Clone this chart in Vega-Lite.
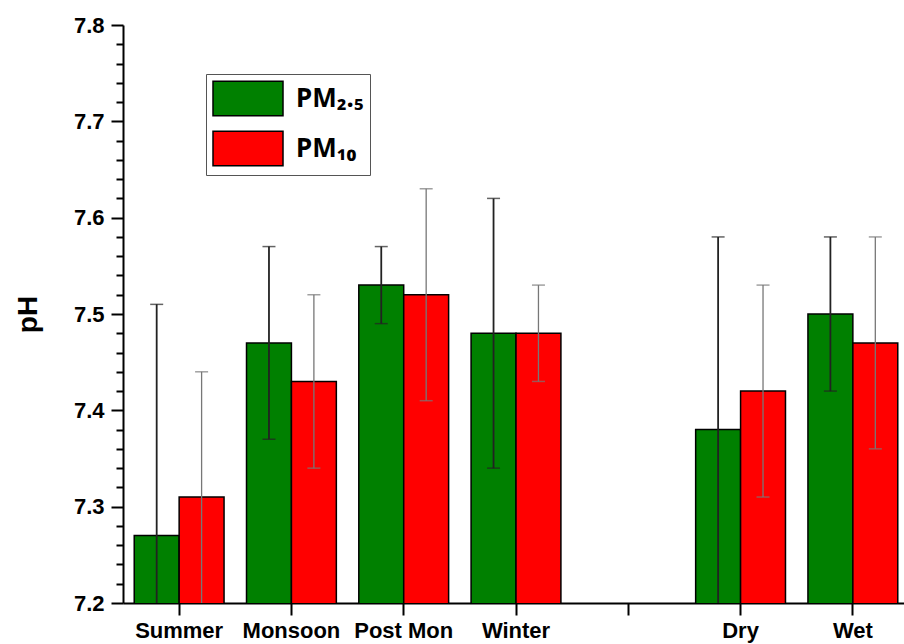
{
  "$schema": "https://vega.github.io/schema/vega-lite/v6.json",
  "width": 786,
  "height": 578,
  "autosize": {"type": "none"},
  "padding": {"left": 123, "top": 25, "right": 0, "bottom": 41},
  "background": "white",
  "config": {"font": "Liberation Sans", "view": {"stroke": null}},
  "data": {
    "values": [
      {"season": "Summer", "pm": "PM2.5", "mean": 7.27, "lo": 7.03, "hi": 7.51},
      {"season": "Summer", "pm": "PM10", "mean": 7.31, "lo": 7.18, "hi": 7.44},
      {"season": "Monsoon", "pm": "PM2.5", "mean": 7.47, "lo": 7.37, "hi": 7.57},
      {"season": "Monsoon", "pm": "PM10", "mean": 7.43, "lo": 7.34, "hi": 7.52},
      {"season": "Post Mon", "pm": "PM2.5", "mean": 7.53, "lo": 7.49, "hi": 7.57},
      {"season": "Post Mon", "pm": "PM10", "mean": 7.52, "lo": 7.41, "hi": 7.63},
      {"season": "Winter", "pm": "PM2.5", "mean": 7.48, "lo": 7.34, "hi": 7.62},
      {"season": "Winter", "pm": "PM10", "mean": 7.48, "lo": 7.43, "hi": 7.53},
      {"season": "Dry", "pm": "PM2.5", "mean": 7.38, "lo": 7.18, "hi": 7.58},
      {"season": "Dry", "pm": "PM10", "mean": 7.42, "lo": 7.31, "hi": 7.53},
      {"season": "Wet", "pm": "PM2.5", "mean": 7.50, "lo": 7.42, "hi": 7.58},
      {"season": "Wet", "pm": "PM10", "mean": 7.47, "lo": 7.36, "hi": 7.58}
    ]
  },
  "encoding": {
    "x": {
      "field": "season",
      "type": "nominal",
      "scale": {
        "domain": ["Summer", "Monsoon", "Post Mon", "Winter", " ", "Dry", "Wet"],
        "paddingInner": 0.2,
        "paddingOuter": 0.1
      },
      "axis": {
        "title": null,
        "labelAngle": 0,
        "labelFontSize": 22,
        "labelFontWeight": "bold",
        "labelColor": "black",
        "labelPadding": 5,
        "tickSize": 12,
        "tickWidth": 2,
        "tickColor": "black",
        "domainColor": "black",
        "domainWidth": 2,
        "grid": false
      }
    },
    "xOffset": {"field": "pm", "type": "nominal", "scale": {"domain": ["PM2.5", "PM10"]}}
  },
  "layer": [
    {
      "mark": {"type": "bar", "stroke": "black", "strokeWidth": 1.5, "clip": true},
      "encoding": {
        "y": {
          "field": "mean",
          "type": "quantitative",
          "scale": {"domain": [7.2, 7.8], "zero": false, "nice": false},
          "axis": {
            "title": "pH",
            "titleFontSize": 28,
            "titleFontWeight": "bold",
            "titleColor": "black",
            "titlePadding": 31,
            "values": [7.2, 7.22, 7.24, 7.26, 7.28, 7.3, 7.32, 7.34, 7.36, 7.38, 7.4, 7.42, 7.44, 7.46, 7.48, 7.5, 7.52, 7.54, 7.56, 7.58, 7.6, 7.62, 7.64, 7.66, 7.68, 7.7, 7.72, 7.74, 7.76, 7.78, 7.8],
            "tickCount": 40,
            "labelExpr": "abs(datum.value*10-round(datum.value*10))<0.001 ? format(datum.value,'.1f') : ''",
            "tickSize": {"condition": {"test": "abs(datum.value*10-round(datum.value*10))<0.001", "value": 12}, "value": 7},
            "tickWidth": 2,
            "tickColor": "black",
            "labelFontSize": 22,
            "labelFontWeight": "bold",
            "labelColor": "black",
            "labelPadding": 7,
            "labelFlush": false,
            "labelOverlap": false,
            "domainColor": "black",
            "domainWidth": 2,
            "grid": false
          }
        },
        "fill": {
          "field": "pm",
          "type": "nominal",
          "scale": {"domain": ["PM2.5", "PM10"], "range": ["#008000", "#ff0000"]},
          "legend": {
            "orient": "none",
            "legendX": 83,
            "legendY": 49,
            "title": null,
            "labelExpr": "datum.value == 'PM2.5' ? 'PM₂.₅\u00a0' : 'PM₁₀\u00a0'",
            "labelFont": "Noto Sans",
            "symbolType": "M-1,-0.98H3V0.98H-1Z",
            "symbolSize": 1225,
            "symbolStrokeColor": "black",
            "symbolStrokeWidth": 1.5,
            "labelOffset": 47,
            "labelFontSize": 26,
            "labelFontWeight": "bold",
            "labelColor": "black",
            "strokeColor": "#555",
            "fillColor": "white",
            "padding": 6,
            "rowPadding": 9
          }
        }
      }
    },
    {
      "mark": {"type": "rule", "clip": true},
      "encoding": {
        "y": {"field": "lo", "type": "quantitative"},
        "y2": {"field": "hi"},
        "color": {"condition": {"test": "datum.pm == 'PM2.5'", "value": "#222222"}, "value": "#777777"},
        "strokeWidth": {"condition": {"test": "datum.pm == 'PM2.5'", "value": 1.8}, "value": 1.3}
      }
    },
    {
      "mark": {"type": "tick", "clip": true, "size": 13, "thickness": 1.5},
      "encoding": {
        "y": {"field": "hi", "type": "quantitative"},
        "color": {"condition": {"test": "datum.pm == 'PM2.5'", "value": "#222222"}, "value": "#777777"}
      }
    },
    {
      "mark": {"type": "tick", "clip": true, "size": 13, "thickness": 1.5},
      "encoding": {
        "y": {"field": "lo", "type": "quantitative"},
        "color": {"condition": {"test": "datum.pm == 'PM2.5'", "value": "#222222"}, "value": "#777777"}
      }
    }
  ]
}
